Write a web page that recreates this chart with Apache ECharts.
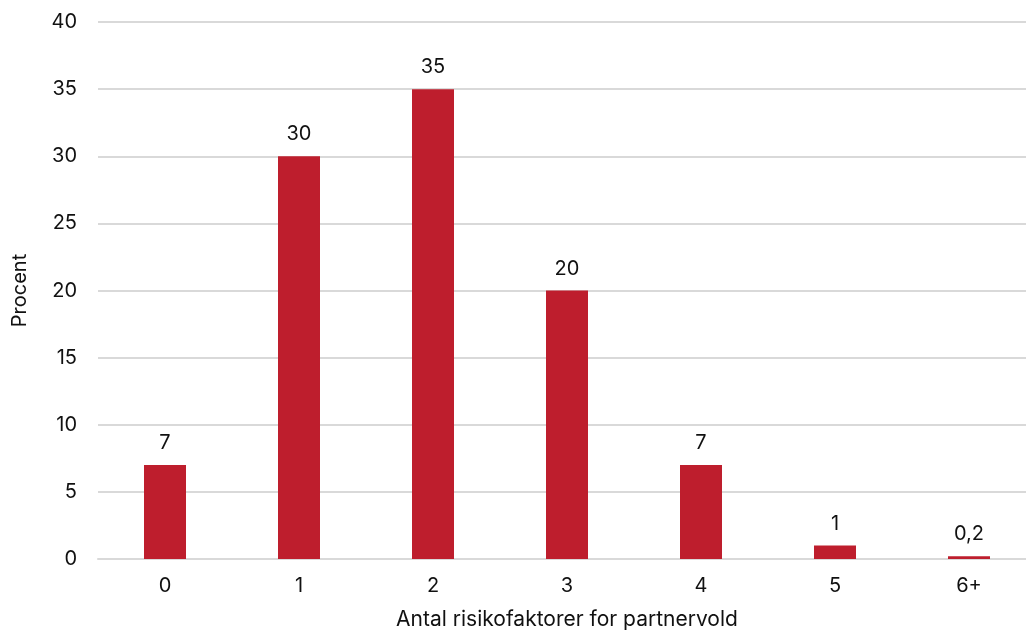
<!DOCTYPE html>
<html>
<head>
<meta charset="utf-8">
<script src="https://cdn.jsdelivr.net/npm/echarts@6/dist/echarts.min.js"></script>
<style>
html,body{margin:0;padding:0;background:#fff;}
#c{width:1026px;height:632px;}
</style>
</head>
<body>
<div id="c"></div>
<script>
const categories = ['0', '1', '2', '3', '4', '5', '6+'];
const values = [7, 30, 35, 20, 7, 1, 0.2];
const valueLabels = ['7', '30', '35', '20', '7', '1', '0,2'];
const yTicks = [0, 5, 10, 15, 20, 25, 30, 35, 40];

const chart = echarts.init(document.getElementById('c'), null, {renderer: 'canvas'});
const font = 'Inter, "Noto Sans", sans-serif';
chart.setOption({
  animation: false,
  grid: {left: 98, right: -10, top: 22, bottom: 73, containLabel: false, outerBoundsMode: 'none'},
  xAxis: {
    type: 'category',
    data: categories,
    name: 'Antal risikofaktorer for partnervold',
    nameLocation: 'middle',
    nameGap: 50,
    nameTextStyle: {fontFamily: font, fontSize: 21, color: '#111'},
    axisLine: {show: true, lineStyle: {color: '#d9d9d9', width: 2}},
    axisTick: {show: false},
    axisLabel: {fontFamily: font, fontSize: 20, color: '#111', margin: 17}
  },
  yAxis: {
    type: 'value',
    min: yTicks[0],
    max: yTicks[yTicks.length - 1],
    interval: 5,
    name: 'Procent',
    nameLocation: 'middle',
    nameGap: 68,
    nameRotate: 90,
    nameTextStyle: {fontFamily: font, fontSize: 20, color: '#111'},
    axisLine: {show: false},
    axisTick: {show: false},
    axisLabel: {fontFamily: font, fontSize: 20, color: '#111', margin: 21},
    splitLine: {show: true, lineStyle: {color: '#d9d9d9', width: 2}}
  },
  series: [{
    type: 'bar',
    data: values,
    barWidth: 42,
    itemStyle: {color: '#BE1E2D'},
    label: {
      show: true,
      position: 'top',
      distance: 12,
      fontFamily: font,
      fontSize: 20,
      color: '#111',
      formatter: p => valueLabels[p.dataIndex]
    }
  }]
});
</script>
</body>
</html>
